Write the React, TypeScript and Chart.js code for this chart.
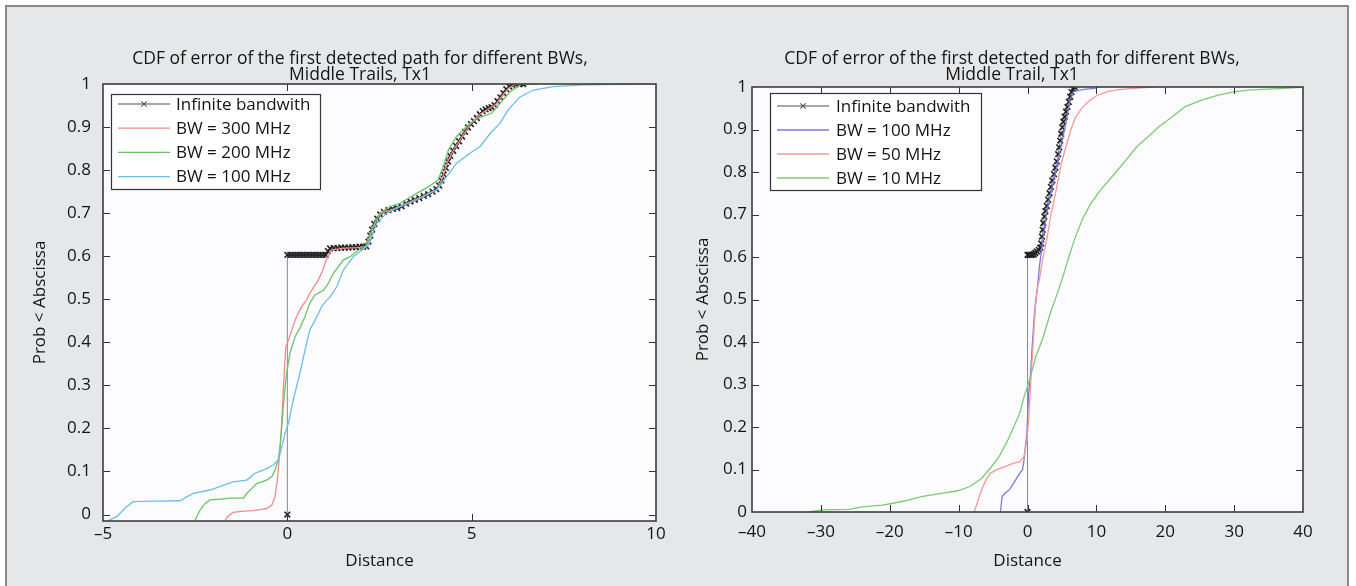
import React, { useEffect, useRef } from "react";
import { Chart, registerables } from "chart.js";

Chart.register(...registerables);

const FONT = "'Open Sans', 'Noto Sans', 'DejaVu Sans', sans-serif";
Chart.defaults.font.family = FONT;

type P = [number, number];

// ---------------- shared ticks ----------------
const yTicks = [0, 0.1, 0.2, 0.3, 0.4, 0.5, 0.6, 0.7, 0.8, 0.9, 1];
const leftXTicks = [-5, 0, 5, 10];
const rightXTicks = [-40, -30, -20, -10, 0, 10, 20, 30, 40];

// ---------------- left panel ----------------
const leftTitle = [
  "CDF of error of the first detected path for different BWs,",
  "Middle Trails, Tx1",
];
const leftLabels = ["Infinite bandwith", "BW = 300 MHz", "BW = 200 MHz", "BW = 100 MHz"];

const leftInf: P[] = [
  [0, 0], [0, 0.603], [0.08, 0.603], [0.16, 0.603], [0.24, 0.603], [0.32, 0.603], [0.4, 0.603],
  [0.48, 0.603], [0.56, 0.603], [0.64, 0.603], [0.72, 0.603], [0.8, 0.603], [0.88, 0.603],
  [0.96, 0.603], [1.04, 0.603], [1.1, 0.612], [1.16, 0.618], [1.26, 0.619], [1.36, 0.619],
  [1.46, 0.62], [1.56, 0.62], [1.66, 0.62], [1.76, 0.621], [1.86, 0.621], [1.96, 0.622],
  [2.06, 0.622], [2.14, 0.623], [2.2, 0.634], [2.25, 0.648], [2.3, 0.662], [2.36, 0.675],
  [2.44, 0.687], [2.52, 0.697], [2.62, 0.703], [2.74, 0.707], [2.86, 0.71], [2.98, 0.712],
  [3.1, 0.716], [3.22, 0.722], [3.34, 0.727], [3.46, 0.731], [3.58, 0.735], [3.7, 0.74],
  [3.82, 0.744], [3.94, 0.75], [4.04, 0.756], [4.12, 0.764], [4.18, 0.776], [4.24, 0.79],
  [4.3, 0.805], [4.36, 0.82], [4.42, 0.833], [4.5, 0.845], [4.58, 0.856], [4.66, 0.867],
  [4.74, 0.878], [4.82, 0.889], [4.9, 0.899], [4.98, 0.907], [5.06, 0.914], [5.14, 0.921],
  [5.22, 0.93], [5.3, 0.937], [5.38, 0.941], [5.46, 0.944], [5.54, 0.946], [5.62, 0.951],
  [5.7, 0.96], [5.78, 0.969], [5.86, 0.979], [5.94, 0.988], [6.02, 0.994], [6.1, 0.998],
  [6.18, 1.0], [6.3, 1.0], [6.4, 1.0],
];
const leftBw300: P[] = [
  [-1.69, -0.013], [-1.6, -0.003], [-1.47, 0.005], [-1.2, 0.008], [-0.92, 0.009], [-0.7, 0.012],
  [-0.56, 0.014], [-0.42, 0.022], [-0.335, 0.041], [-0.27, 0.08], [-0.23, 0.119], [-0.18, 0.173],
  [-0.14, 0.235], [-0.11, 0.289], [-0.08, 0.336], [-0.04, 0.39], [0.03, 0.405], [0.12, 0.429],
  [0.25, 0.46], [0.39, 0.483], [0.52, 0.498], [0.61, 0.514], [0.75, 0.533], [0.84, 0.545],
  [0.95, 0.565], [1.05, 0.59], [1.12, 0.602], [1.2, 0.615], [1.5, 0.618], [1.9, 0.62],
  [2.15, 0.622], [2.25, 0.645], [2.32, 0.668], [2.45, 0.69], [2.6, 0.702], [2.9, 0.71],
  [3.3, 0.725], [3.7, 0.74], [4.05, 0.755], [4.2, 0.78], [4.35, 0.82], [4.5, 0.845],
  [4.7, 0.872], [4.95, 0.905], [5.2, 0.928], [5.45, 0.942], [5.65, 0.952], [5.85, 0.975],
  [6.0, 0.99], [6.2, 1.0], [6.5, 1.0],
];
const leftBw200: P[] = [
  [-2.5, -0.013], [-2.37, 0.01], [-2.23, 0.026], [-2.1, 0.034], [-1.8, 0.036], [-1.56, 0.038],
  [-1.19, 0.038], [-1.1, 0.049], [-0.95, 0.062], [-0.83, 0.072], [-0.56, 0.08], [-0.42, 0.088],
  [-0.335, 0.103], [-0.245, 0.127], [-0.2, 0.157], [-0.15, 0.204], [-0.11, 0.25], [-0.06, 0.297],
  [-0.02, 0.328], [0.07, 0.374], [0.21, 0.413], [0.34, 0.433], [0.48, 0.46], [0.61, 0.491],
  [0.75, 0.51], [0.98, 0.521], [1.1, 0.535], [1.25, 0.56], [1.52, 0.591], [1.7, 0.599],
  [1.92, 0.614], [2.11, 0.622], [2.2, 0.64], [2.29, 0.661], [2.51, 0.7], [2.8, 0.715],
  [3.06, 0.723], [3.51, 0.746], [3.8, 0.76], [4.09, 0.777], [4.23, 0.808], [4.37, 0.847],
  [4.59, 0.878], [4.95, 0.909], [5.27, 0.924], [5.54, 0.932], [5.77, 0.955], [6.04, 0.982],
  [6.36, 1.0], [6.8, 1.0],
];
const leftBw100: P[] = [
  [-4.86, -0.014], [-4.63, -0.005], [-4.36, 0.018], [-4.18, 0.03], [-3.6, 0.031], [-2.91, 0.032],
  [-2.73, 0.041], [-2.55, 0.049], [-2.1, 0.057], [-1.74, 0.068], [-1.47, 0.076], [-1.1, 0.08],
  [-0.88, 0.096], [-0.65, 0.103], [-0.38, 0.115], [-0.245, 0.127], [-0.15, 0.157], [-0.06, 0.189],
  [0.03, 0.212], [0.16, 0.266], [0.34, 0.328], [0.48, 0.382], [0.61, 0.429], [0.8, 0.459],
  [0.93, 0.483], [1.07, 0.498], [1.16, 0.505], [1.34, 0.529], [1.52, 0.568], [1.79, 0.599],
  [2.02, 0.614], [2.2, 0.626], [2.42, 0.676], [2.69, 0.7], [3.06, 0.715], [3.51, 0.731],
  [4.05, 0.754], [4.32, 0.785], [4.59, 0.816], [4.95, 0.839], [5.23, 0.855], [5.5, 0.885],
  [5.77, 0.909], [5.99, 0.94], [6.31, 0.97], [6.67, 0.986], [7.21, 0.994], [8.03, 0.998],
  [9.0, 0.999], [9.7, 1.0], [10, 1.0],
];

// ---------------- right panel ----------------
const rightTitle = [
  "CDF of error of the first detected path for different BWs,",
  "Middle Trail, Tx1",
];
const rightLabels = ["Infinite bandwith", "BW = 100 MHz", "BW = 50 MHz", "BW = 10 MHz"];

const rightInf: P[] = [
  [0, 0], [0, 0.605], [0.15, 0.605], [0.35, 0.605], [0.55, 0.605], [0.75, 0.605], [0.95, 0.607],
  [1.15, 0.61], [1.4, 0.613], [1.65, 0.617], [1.85, 0.622], [2.0, 0.632], [2.1, 0.648],
  [2.2, 0.664], [2.3, 0.68], [2.45, 0.695], [2.6, 0.708], [2.8, 0.72], [3.0, 0.735], [3.2, 0.75],
  [3.4, 0.765], [3.6, 0.78], [3.85, 0.795], [4.05, 0.81], [4.25, 0.825], [4.45, 0.842],
  [4.6, 0.858], [4.75, 0.874], [4.9, 0.89], [5.05, 0.905], [5.2, 0.918], [5.4, 0.93],
  [5.6, 0.942], [5.8, 0.953], [6.0, 0.965], [6.2, 0.977], [6.4, 0.988], [6.6, 0.996], [6.85, 1.0],
];
const rightBw100: P[] = [
  [-3.92, 0.0], [-3.7, 0.036], [-3.27, 0.044], [-2.64, 0.052], [-2.0, 0.068], [-1.15, 0.091],
  [-0.73, 0.099], [-0.51, 0.122], [-0.31, 0.154], [-0.09, 0.185], [0.04, 0.232], [0.16, 0.279],
  [0.41, 0.318], [0.68, 0.389], [0.94, 0.452], [1.2, 0.499], [1.46, 0.53], [1.73, 0.577],
  [1.98, 0.609], [2.4, 0.66], [2.77, 0.703], [3.3, 0.745], [3.82, 0.781], [4.35, 0.82],
  [4.87, 0.86], [5.3, 0.895], [5.66, 0.922], [6.18, 0.969], [6.7, 0.989], [7.48, 0.992],
  [8.0, 0.994], [8.5, 0.995], [9.8, 0.997], [10.2, 1.0],
];
const rightBw50: P[] = [
  [-7.74, 0.0], [-7.32, 0.02], [-6.68, 0.052], [-6.05, 0.075], [-5.41, 0.091], [-4.56, 0.099],
  [-3.29, 0.107], [-2.0, 0.115], [-1.15, 0.118], [-0.51, 0.13], [-0.09, 0.169], [0.16, 0.216],
  [0.41, 0.287], [0.57, 0.334], [0.79, 0.389], [0.99, 0.444], [1.2, 0.491], [1.46, 0.53],
  [1.73, 0.546], [2.0, 0.575], [2.3, 0.603], [2.9, 0.65], [3.4, 0.7], [4.2, 0.76], [4.9, 0.82],
  [5.6, 0.86], [6.3, 0.9], [7.0, 0.93], [8.0, 0.952], [9.0, 0.968], [10.1, 0.98], [11.6, 0.989],
  [13.2, 0.994], [16.4, 0.998], [18.5, 1.0],
];
const rightBw10: P[] = [
  [-31.75, 0.0], [-29.76, 0.005], [-25.9, 0.006], [-24.0, 0.012], [-21.1, 0.016], [-19.67, 0.02],
  [-17.3, 0.028], [-15.4, 0.036], [-12.5, 0.044], [-10.1, 0.05], [-8.38, 0.06], [-6.68, 0.079],
  [-5.41, 0.103], [-4.13, 0.13], [-2.86, 0.169], [-2.0, 0.2], [-1.15, 0.232], [-0.51, 0.271],
  [0.16, 0.303], [0.68, 0.334], [1.2, 0.365], [2.25, 0.41], [3.3, 0.467], [4.34, 0.515],
  [5.13, 0.553], [5.9, 0.595], [6.9, 0.645], [8.0, 0.69], [9.2, 0.726], [10.63, 0.758],
  [12.7, 0.797], [14.3, 0.828], [15.9, 0.86], [17.5, 0.883], [19.1, 0.907], [21.04, 0.93],
  [22.9, 0.954], [25.3, 0.969], [27.7, 0.981], [30.1, 0.989], [32.5, 0.993], [37.3, 0.997],
  [39.7, 0.999],
];

// ---------------- helpers ----------------
const toPts = (a: P[]) => a.map(([x, y]) => ({ x, y }));
const fmtX = (v: number) => (v < 0 ? "\u2013" + Math.abs(v) : String(v));
const fmtY = (v: number) => String(v);

const infStyle = (label: string, data: P[]) => ({
  label,
  data: toPts(data),
  borderColor: "#8a8a8a",
  borderWidth: 1,
  pointStyle: "crossRot",
  pointRadius: 4,
  pointBorderColor: "#222222",
  pointBorderWidth: 1.6,
  pointBackgroundColor: "rgba(0,0,0,0)",
  order: 10,
  tension: 0,
});
const lineStyle = (label: string, data: P[], color: string, order: number) => ({
  label,
  data: toPts(data),
  borderColor: color,
  borderWidth: 1.3,
  pointRadius: 0,
  order,
  tension: 0,
});

const decorPlugin = {
  id: "decor",
  beforeDraw(chart: any) {
    const { ctx, chartArea: a } = chart;
    ctx.save();
    ctx.fillStyle = "#fcfcfe";
    ctx.fillRect(a.left, a.top, a.right - a.left, a.bottom - a.top);
    ctx.restore();
  },
  afterDatasetsDraw(chart: any, _args: any, opts: any) {
    const { ctx, chartArea: a } = chart;
    const xs = chart.scales.x;
    const ys = chart.scales.y;
    ctx.save();
    // inward ticks
    ctx.strokeStyle = "#333";
    ctx.lineWidth = 1;
    const tl = 7;
    ctx.beginPath();
    for (const v of opts.xTicks as number[]) {
      if (v <= xs.min || v >= xs.max) continue;
      const px = Math.round(xs.getPixelForValue(v)) + 0.5;
      ctx.moveTo(px, a.bottom);
      ctx.lineTo(px, a.bottom - tl);
      ctx.moveTo(px, a.top);
      ctx.lineTo(px, a.top + tl);
    }
    for (const v of opts.yTicks as number[]) {
      if (v <= ys.min || v >= ys.max) continue;
      const py = Math.round(ys.getPixelForValue(v)) + 0.5;
      ctx.moveTo(a.left, py);
      ctx.lineTo(a.left + tl, py);
      ctx.moveTo(a.right, py);
      ctx.lineTo(a.right - tl, py);
    }
    ctx.stroke();
    // box
    ctx.strokeStyle = "#3c3c3c";
    ctx.lineWidth = 1.6;
    ctx.strokeRect(a.left, a.top, a.right - a.left, a.bottom - a.top);

    // legend
    const lg = opts.legend;
    ctx.fillStyle = "#ffffff";
    ctx.fillRect(lg.x, lg.y, lg.w, lg.h);
    ctx.strokeStyle = "#333";
    ctx.lineWidth = 1.2;
    ctx.strokeRect(lg.x + 0.5, lg.y + 0.5, lg.w, lg.h);
    chart.data.datasets.forEach((ds: any, i: number) => {
      const y = lg.row0 + i * lg.step;
      ctx.strokeStyle = ds.borderColor;
      ctx.lineWidth = 1.3;
      ctx.beginPath();
      ctx.moveTo(lg.sx0, y);
      ctx.lineTo(lg.sx1, y);
      ctx.stroke();
      if (ds.pointRadius > 0) {
        const cx = (lg.sx0 + lg.sx1) / 2;
        const r = 2.6;
        ctx.strokeStyle = "#555";
        ctx.lineWidth = 1.1;
        ctx.beginPath();
        ctx.moveTo(cx - r, y - r);
        ctx.lineTo(cx + r, y + r);
        ctx.moveTo(cx + r, y - r);
        ctx.lineTo(cx - r, y + r);
        ctx.stroke();
      }
      ctx.fillStyle = "#141414";
      ctx.font = `17px ${FONT}`;
      ctx.textBaseline = "middle";
      ctx.textAlign = "left";
      ctx.fillText(ds.label, lg.tx, y + 1);
    });
    ctx.restore();
  },
};

type PanelSpec = {
  title: string[];
  datasets: any[];
  xMin: number;
  xMax: number;
  yMin: number;
  xTicks: number[];
  padLeft: number;
  padRight: number;
  yAxisWidth: number;
  xAxisHeight: number;
  titlePadTop: number;
  titlePadBottom: number;
  yTickPad: number;
  xTickPad: number;
  yTitlePadTop: number;
  legend: any;
};

function buildConfig(p: PanelSpec): any {
  const tickFont = { family: FONT, size: 17 };
  return {
    type: "line",
    data: { datasets: p.datasets },
    plugins: [decorPlugin],
    options: {
      responsive: false,
      animation: false,
      devicePixelRatio: 1,
      layout: { padding: { left: p.padLeft, right: p.padRight, top: 0, bottom: 0 } },
      plugins: {
        legend: { display: false },
        tooltip: { enabled: false },
        title: {
          display: true,
          text: p.title,
          color: "#141414",
          font: { family: FONT, size: 17.5, weight: "normal", lineHeight: "16px" },
          padding: { top: p.titlePadTop, bottom: p.titlePadBottom },
        },
        decor: { xTicks: p.xTicks, yTicks: yTicks, legend: p.legend },
      },
      scales: {
        x: {
          type: "linear",
          min: p.xMin,
          max: p.xMax,
          grid: { display: false, drawTicks: false },
          border: { display: false },
          afterBuildTicks: (s: any) => {
            s.ticks = p.xTicks.map((v) => ({ value: v }));
          },
          afterFit: (s: any) => {
            s.height = p.xAxisHeight;
          },
          ticks: {
            autoSkip: false,
            maxRotation: 0,
            padding: p.xTickPad,
            color: "#141414",
            font: tickFont,
            callback: (v: any) => fmtX(Number(v)),
          },
          title: {
            display: true,
            text: "Distance",
            color: "#141414",
            font: tickFont,
            padding: { top: 0, bottom: 14.8 },
          },
        },
        y: {
          type: "linear",
          min: p.yMin,
          max: 1,
          grid: { display: false, drawTicks: false },
          border: { display: false },
          afterBuildTicks: (s: any) => {
            s.ticks = yTicks.map((v) => ({ value: v }));
          },
          afterFit: (s: any) => {
            s.width = p.yAxisWidth;
          },
          ticks: {
            autoSkip: false,
            padding: p.yTickPad,
            color: "#141414",
            font: tickFont,
            callback: (v: any) => fmtY(Number(v)),
          },
          title: {
            display: true,
            text: "Prob < Abscissa",
            color: "#141414",
            font: tickFont,
            padding: { top: p.yTitlePadTop, bottom: 0 },
          },
        },
      },
    },
  };
}

const leftSpec: PanelSpec = {
  title: leftTitle,
  datasets: [
    infStyle(leftLabels[0], leftInf),
    lineStyle(leftLabels[1], leftBw300, "#f28b8b", 3),
    lineStyle(leftLabels[2], leftBw200, "#6cc46a", 2),
    lineStyle(leftLabels[3], leftBw100, "#6dbdec", 1),
  ],
  xMin: -5,
  xMax: 10,
  yMin: -0.015,
  xTicks: leftXTicks,
  padLeft: 64,
  padRight: 24,
  yAxisWidth: 39,
  xAxisHeight: 65,
  titlePadTop: 51,
  titlePadBottom: 1,
  yTickPad: 12,
  xTickPad: 3,
  yTitlePadTop: -34.2,
  legend: { x: 111, y: 94, w: 209, h: 95, row0: 104, step: 24.2, sx0: 118, sx1: 170, tx: 176 },
};

const rightSpec: PanelSpec = {
  title: rightTitle,
  datasets: [
    infStyle(rightLabels[0], rightInf),
    lineStyle(rightLabels[1], rightBw100, "#7b7bd9", 3),
    lineStyle(rightLabels[2], rightBw50, "#f59a9a", 2),
    lineStyle(rightLabels[3], rightBw10, "#7dca72", 1),
  ],
  xMin: -40,
  xMax: 40,
  yMin: 0,
  xTicks: rightXTicks,
  padLeft: 41,
  padRight: 53,
  yAxisWidth: 31,
  xAxisHeight: 74,
  titlePadTop: 51,
  titlePadBottom: 4,
  yTickPad: 5,
  xTickPad: 9.5,
  yTitlePadTop: -28.2,
  legend: { x: 90, y: 93, w: 211, h: 97, row0: 106, step: 24, sx0: 97, sx1: 149, tx: 156 },
};

function Panel({ spec, left, width }: { spec: PanelSpec; left: number; width: number }) {
  const ref = useRef<HTMLCanvasElement>(null);
  useEffect(() => {
    const chart = new Chart(ref.current as HTMLCanvasElement, buildConfig(spec));
    return () => chart.destroy();
  }, [spec]);
  return (
    <canvas
      ref={ref}
      width={width}
      height={586}
      style={{ position: "absolute", left, top: 0, width, height: 586 }}
    />
  );
}

export default function App() {
  return (
    <div
      style={{
        position: "absolute",
        left: 0,
        top: 0,
        width: 1356,
        height: 586,
        background: "#ffffff",
        overflow: "hidden",
      }}
    >
      <div
        style={{
          position: "absolute",
          left: 5,
          top: 5,
          width: 1344,
          height: 620,
          boxSizing: "border-box",
          background: "#e6e7e8",
          borderLeft: "2px solid #8a8a8a",
          borderTop: "2px solid #8a8a8a",
          borderRight: "2px solid #8a8a8a",
        }}
      />
      <Panel spec={leftSpec} left={0} width={680} />
      <Panel spec={rightSpec} left={680} width={676} />
    </div>
  );
}
